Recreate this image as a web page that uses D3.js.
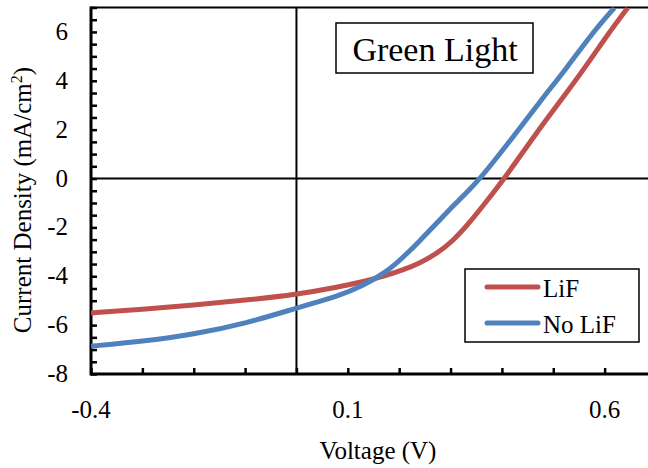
<!DOCTYPE html>
<meta charset="utf-8">
<style>
body { margin: 0; background: #fff; }
</style>
<svg width="648" height="468"></svg>
<script src="https://d3js.org/d3.v7.min.js"></script>
<script>

// voltage (V) and current density (mA/cm2)
var lifV = [-0.4, -0.3, -0.2, -0.1, 0, 0.084, 0.13, 0.175, 0.208, 0.24, 0.273, 0.305, 0.337, 0.37, 0.405, 0.467, 0.516, 0.564, 0.606, 0.645];
var lifJ = [-5.50, -5.36, -5.18, -4.98, -4.75, -4.43, -4.22, -3.97, -3.74, -3.46, -3.08, -2.55, -1.81, -0.93, 0, 1.87, 3.23, 4.60, 5.90, 6.99];

var noLifV = [-0.4, -0.3, -0.2, -0.1, 0, 0.084, 0.13, 0.175, 0.208, 0.24, 0.273, 0.305, 0.337, 0.358, 0.428, 0.477, 0.529, 0.574, 0.619];
var noLifJ = [-6.86, -6.67, -6.38, -5.94, -5.30, -4.80, -4.38, -3.83, -3.22, -2.55, -1.83, -1.12, -0.45, 0, 1.87, 3.23, 4.60, 5.90, 6.99];

var xLabels = ["-0.4", "0.1", "0.6"];
var yLabels = ["-8", "-6", "-4", "-2", "0", "2", "4", "6"];

var series = [
  { name: "LiF", color: "#C0504D", v: lifV, j: lifJ },
  { name: "No LiF", color: "#4F81BD", v: noLifV, j: noLifJ }
];

var serif = "Liberation Serif, Times New Roman, DejaVu Serif, serif";

var svg = d3.select("svg");

var x = d3.scaleLinear().domain([-0.4, 0.7]).range([91, 656]);
var y = d3.scaleLinear().domain([-8, 7]).range([374, 7.5]);

// frame top
svg.append("line")
    .attr("x1", 91).attr("x2", 648)
    .attr("y1", y(7)).attr("y2", y(7))
    .attr("stroke", "#000").attr("stroke-width", 2);

// zero lines
svg.append("line")
    .attr("x1", x(-0.4)).attr("x2", 648)
    .attr("y1", y(0)).attr("y2", y(0))
    .attr("stroke", "#000").attr("stroke-width", 2);
svg.append("line")
    .attr("x1", x(0)).attr("x2", x(0))
    .attr("y1", y(7)).attr("y2", y(-8))
    .attr("stroke", "#000").attr("stroke-width", 2);

// axes with inner ticks
var xAxis = d3.axisBottom(x)
    .tickValues(d3.range(-0.4, 0.65, 0.1))
    .tickSize(-6)
    .tickFormat("");
var gx = svg.append("g")
    .attr("transform", "translate(0," + y(-8) + ")")
    .call(xAxis);
gx.select(".domain").remove();
gx.selectAll(".tick line").attr("stroke", "#000").attr("stroke-width", 2.5);

var yAxis = d3.axisLeft(y)
    .tickValues(d3.range(-8, 7.01, 0.5))
    .tickSize(-6)
    .tickFormat("");
var gy = svg.append("g")
    .attr("transform", "translate(" + x(-0.4) + ",0)")
    .call(yAxis);
gy.select(".domain").remove();
gy.selectAll(".tick line").attr("stroke", "#000").attr("stroke-width", 2.5);

svg.append("line")
    .attr("x1", x(-0.4)).attr("x2", 648)
    .attr("y1", y(-8)).attr("y2", y(-8))
    .attr("stroke", "#000").attr("stroke-width", 3);
svg.append("line")
    .attr("x1", x(-0.4)).attr("x2", x(-0.4))
    .attr("y1", y(7) - 1).attr("y2", y(-8) + 1.5)
    .attr("stroke", "#000").attr("stroke-width", 3);

var labels = svg.append("g")
    .attr("font-family", serif)
    .attr("fill", "#000");

labels.selectAll(".xl").data(xLabels).enter().append("text")
    .attr("x", function(d) { return x(+d); })
    .attr("y", 418)
    .attr("text-anchor", "middle")
    .attr("font-size", 25)
    .text(function(d) { return d; });

labels.selectAll(".yl").data(yLabels).enter().append("text")
    .attr("x", 68)
    .attr("y", function(d) { return y(+d) + 8; })
    .attr("text-anchor", "end")
    .attr("font-size", 25)
    .text(function(d) { return d; });

labels.append("text")
    .attr("x", 378).attr("y", 459)
    .attr("text-anchor", "middle")
    .attr("font-size", 25)
    .text("Voltage (V)");

var yt = labels.append("text")
    .attr("transform", "translate(31,200) rotate(-90)")
    .attr("text-anchor", "middle")
    .attr("font-size", 25);
yt.append("tspan").text("Current Density (mA/cm");
yt.append("tspan").attr("dy", -9).attr("font-size", 16).text("2");
yt.append("tspan").attr("dy", 9).text(")");

// curves
var line = d3.line()
    .x(function(d) { return x(d[0]); })
    .y(function(d) { return y(d[1]); })
    .curve(d3.curveBasis);

svg.append("defs").append("clipPath").attr("id", "clip")
  .append("rect").attr("x", 91).attr("y", y(7)).attr("width", 560).attr("height", y(-8) - y(7));

series.forEach(function(s) {
  svg.append("path")
      .datum(d3.zip(s.v, s.j))
      .attr("clip-path", "url(#clip)")
      .attr("fill", "none")
      .attr("stroke", s.color)
      .attr("stroke-width", 5)
      .attr("d", line);
});

// title box
svg.append("rect")
    .attr("x", 336).attr("y", 23).attr("width", 197).attr("height", 50)
    .attr("fill", "#fff").attr("stroke", "#000").attr("stroke-width", 1.5);
svg.append("text")
    .attr("x", 435).attr("y", 61)
    .attr("text-anchor", "middle")
    .attr("font-family", serif)
    .attr("font-size", 34)
    .text("Green Light");

// legend
svg.append("rect")
    .attr("x", 465).attr("y", 269).attr("width", 174).attr("height", 73)
    .attr("fill", "#fff").attr("stroke", "#000").attr("stroke-width", 1.5);
var leg = svg.selectAll(".leg").data(series).enter().append("g")
    .attr("transform", function(d, i) { return "translate(0," + (287 + i * 36) + ")"; });
leg.append("line")
    .attr("x1", 487).attr("x2", 538)
    .attr("stroke", function(d) { return d.color; })
    .attr("stroke-width", 5)
    .attr("stroke-linecap", "round");
leg.append("text")
    .attr("x", 543).attr("y", 9.5)
    .attr("font-family", serif)
    .attr("font-size", 25)
    .text(function(d) { return d.name; });

</script>
